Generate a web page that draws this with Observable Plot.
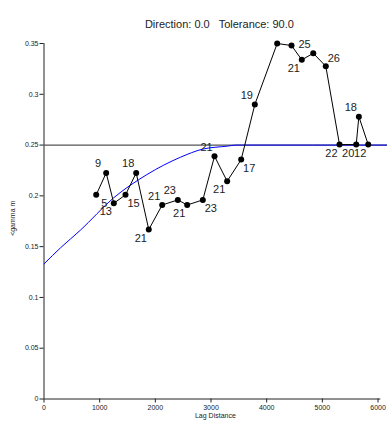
<!DOCTYPE html>
<html><head>
<meta charset="utf-8">
<script src="https://cdn.jsdelivr.net/npm/d3@7"></script>
<script src="https://cdn.jsdelivr.net/npm/@observablehq/plot@0.6"></script>
<style>body{margin:0;background:#fff}</style>
</head><body>
<div id="chart"></div>
<script>
// Experimental variogram points
const lagDistance = [938,1117,1254,1464,1656,1882,2123,2404,2572,2853,3063,3290,3542,3787,4189,4446,4631,4837,5062,5308,5608,5656,5824];
const semivariance = [0.201,0.2226,0.1927,0.201,0.2226,0.1668,0.191,0.196,0.191,0.196,0.239,0.2144,0.2357,0.2899,0.350,0.348,0.3339,0.3404,0.3276,0.2505,0.2505,0.278,0.2505];
const pairCount = ["5","9","13","15","18","21","21","23","21","23","21","21","17","19","","25","21","","26","22","20","18","12"];
// Model curve
const modelLag = [0,300,650,1250,1850,2450,2850,3300,3450,6200];
const modelGamma = [0.133,0.149,0.166,0.198,0.221,0.238,0.246,0.249,0.25,0.25];
const sill = 0.25;
const xTicks = [0,1000,2000,3000,4000,5000,6000];
const yTicks = [0,0.05,0.1,0.15,0.2,0.25,0.3,0.35];
const titleText = "Direction: 0.0\u00a0\u00a0 Tolerance: 90.0";
const xLabel = "Lag Distance";
const yLabel = "<gamma m";

// label placement (layout only)
const labelAnchor = ["se","nw","sw","se","nw","sw","nw","nw","sw","se","nw","sw","se","nw","","e","sw","","ne","sw","sw","nw","sw"];
const offsets = {nw:[-8,-9], sw:[-8,8.5], se:[8,8.5], ne:[8,-8], e:[13,-1]};

const pts = lagDistance.map((d,i)=>({x:d, y:semivariance[i], n:pairCount[i], a:labelAnchor[i]}));
const model = modelLag.map((d,i)=>({x:d, y:modelGamma[i]}));

const labelMarks = Object.entries(offsets).map(([k,[dx,dy]]) =>
  Plot.text(pts.filter(p=>p.a===k && p.n!==""), {x:"x", y:"y", text:"n", dx, dy, fontSize:11, fill:"#222", textAnchor:"middle", lineAnchor:"middle"}));

const plot = Plot.plot({
  width:387, height:423,
  marginLeft:43.5, marginRight:6.7, marginTop:43, marginBottom:24.5,
  x:{domain:[0,6050]},
  y:{domain:[0,0.35]},
  style:{fontFamily:"'Liberation Sans', Arial, sans-serif", background:"white", color:"#222", overflow:"visible"},
  marks:[
    Plot.axisX({ticks:xTicks, tickSize:4, tickPadding:2, fontSize:7, tickFormat:d3.format("d"), label:null}),
    Plot.axisY({ticks:yTicks, tickSize:4, tickPadding:1.5, fontSize:7, tickFormat:d=>String(+d.toFixed(2)), label:null}),
    Plot.ruleY([0], {stroke:"#222"}),
    Plot.ruleX([0], {stroke:"#222"}),
    Plot.ruleY([sill], {x1:0, x2:6200, stroke:"#555", strokeWidth:1.3}),
    Plot.line(model, {x:"x", y:"y", stroke:"blue", strokeWidth:1, curve:"monotone-x"}),
    Plot.line(pts, {x:"x", y:"y", stroke:"black", strokeWidth:1}),
    Plot.dot(pts, {x:"x", y:"y", r:3, fill:"black", stroke:"none"}),
    ...labelMarks,
    Plot.text([titleText], {frameAnchor:"top", dy:-23, dx:7, fontSize:11, fill:"#222"}),
    Plot.text([xLabel], {frameAnchor:"bottom", dy:18.5, dx:3, fontSize:7, fill:"#222"}),
    Plot.text([yLabel], {frameAnchor:"left", dx:-31.5, dy:-3, rotate:-90, textAnchor:"middle", fontSize:7, fill:"#222"})
  ]
});
document.getElementById("chart").append(plot);
</script>
</body></html>
